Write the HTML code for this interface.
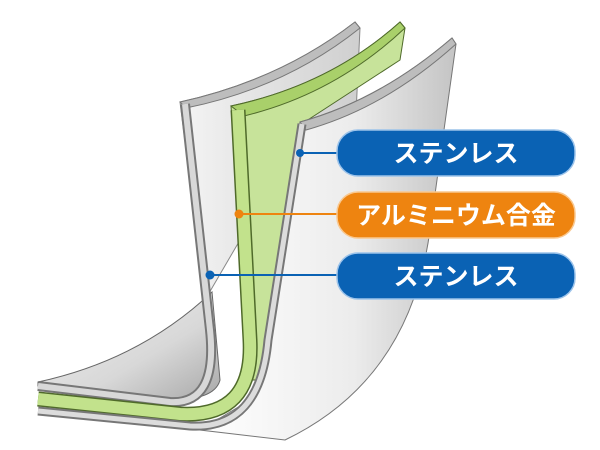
<!DOCTYPE html>
<html><head><meta charset="utf-8"><style>
html,body{margin:0;padding:0;background:#fff;width:600px;height:450px;overflow:hidden}
svg{display:block}
.t{font-family:"Liberation Sans","Noto Sans CJK JP",sans-serif;font-weight:bold;font-size:25px;fill:#fff}
</style></head><body>
<svg width="600" height="450" viewBox="0 0 600 450" xmlns="http://www.w3.org/2000/svg">
<defs>
<linearGradient id="g1" x1="0" y1="0" x2="1" y2="0"><stop offset="0" stop-color="#f4f4f4"/><stop offset="1" stop-color="#cfcfcf"/></linearGradient>
<linearGradient id="g2" x1="0" y1="0" x2="1" y2="1"><stop offset="0" stop-color="#f2f2f2"/><stop offset="0.6" stop-color="#d8d8d8"/><stop offset="1" stop-color="#a8a8a8"/></linearGradient>
<linearGradient id="g3" x1="0" y1="0" x2="1" y2="0"><stop offset="0" stop-color="#ffffff"/><stop offset="0.6" stop-color="#ececec"/><stop offset="1" stop-color="#c4c4c4"/></linearGradient>
</defs>
<path d="M180,102 Q280,80 355,22 L360,28 L352,200 L240,240 L205,300 Z" fill="url(#g1)" stroke="#888" stroke-width="1"/>
<path d="M180,102 Q280,80 355,22 L360,28 Q285,88 186,108 Z" fill="#bdbdbd" stroke="#777" stroke-width="1"/>
<path d="M38,382 Q140,360 212,292 L220,380 Q215,400 170,400 L38,386 Z" fill="url(#g2)" stroke="#666" stroke-width="1"/>
<path d="M231,106 Q330,85 400,22 L405,28 L400,60 L300,125 L264,380 L250,380 Z" fill="#c7e39a" stroke="#4f6a2a" stroke-width="1"/>
<path d="M231,106 Q330,85 400,22 L405,28 Q335,94 244,116 Z" fill="#a9d06a" stroke="#4f6a2a" stroke-width="1"/>
<path d="M185,104 L210,330 Q218,405 170,402 L38,386" fill="none" stroke="#777" stroke-width="10"/>
<path d="M185,104 L210,330 Q218,405 170,402 L38,386" fill="none" stroke="#d8d8d8" stroke-width="6"/>
<path d="M238,110 L250,340 Q254,418 180,414 L38,399" fill="none" stroke="#4f6a2a" stroke-width="15"/>
<path d="M238,110 L250,340 Q254,418 180,414 L38,399" fill="none" stroke="#c2e28c" stroke-width="12"/>
<path d="M300,122 Q380,100 452,38 L456,44 L430,230 Q410,380 285,440 L200,430 L250,400 L268,340 Z" fill="url(#g3)" stroke="#777" stroke-width="1"/>
<path d="M300,122 Q380,100 452,38 L456,44 Q385,108 306,130 Z" fill="#bdbdbd" stroke="#777" stroke-width="1"/>
<path d="M302,124 L268,340 Q260,430 190,426 L38,411" fill="none" stroke="#777" stroke-width="9"/>
<path d="M302,124 L268,340 Q260,430 190,426 L38,411" fill="none" stroke="#dcdcdc" stroke-width="5"/>
<line x1="300" y1="153" x2="340" y2="153" stroke="#0a62b4" stroke-width="2"/>
<circle cx="300" cy="153" r="4" fill="#0a62b4"/>
<line x1="239" y1="214" x2="340" y2="214" stroke="#ee8410" stroke-width="2"/>
<circle cx="239" cy="214" r="4.5" fill="#ee8410"/>
<line x1="210" y1="275" x2="340" y2="275" stroke="#0a62b4" stroke-width="2"/>
<circle cx="210" cy="275" r="4.5" fill="#0a62b4"/>
<rect x="337" y="130" width="238" height="46" rx="21" fill="#0a62b4" stroke="#9cc3ea" stroke-width="1.5"/>
<text class="t" x="456" y="162" text-anchor="middle">ステンレス</text>
<rect x="337" y="192" width="238" height="46" rx="21" fill="#ee8410" stroke="#f9c890" stroke-width="1.5"/>
<text class="t" x="456" y="224" text-anchor="middle">アルミニウム合金</text>
<rect x="337" y="253" width="238" height="46" rx="21" fill="#0a62b4" stroke="#9cc3ea" stroke-width="1.5"/>
<text class="t" x="456" y="285" text-anchor="middle">ステンレス</text>
</svg>
</body></html>
